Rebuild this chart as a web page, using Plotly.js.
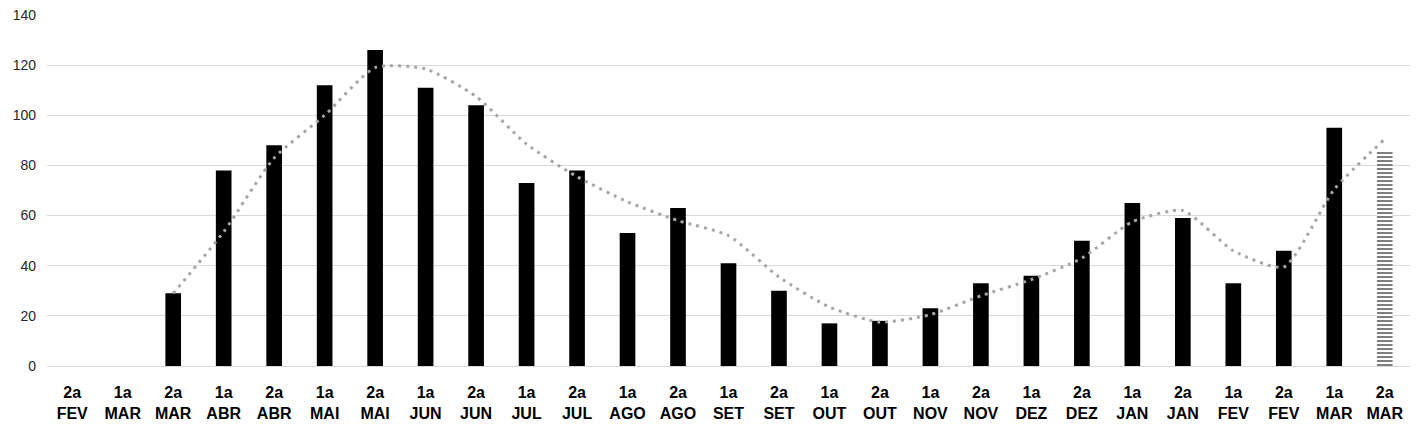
<!DOCTYPE html>
<html><head><meta charset="utf-8">
<script src="https://cdn.plot.ly/plotly-3.0.1.min.js"></script>
<style>html,body{margin:0;padding:0;background:#fff}#c{width:1424px;height:436px}</style>
</head><body><div id="c"></div>
<script>
const periods = ["2a","1a","2a","1a","2a","1a","2a","1a","2a","1a","2a","1a","2a","1a","2a","1a","2a","1a","2a","1a","2a","1a","2a","1a","2a","1a","2a"];
const months = ["FEV","MAR","MAR","ABR","ABR","MAI","MAI","JUN","JUN","JUL","JUL","AGO","AGO","SET","SET","OUT","OUT","NOV","NOV","DEZ","DEZ","JAN","JAN","FEV","FEV","MAR","MAR"];
const values = [null,null,29,78,88,112,126,111,104,73,78,53,63,41,30,17,18,23,33,36,50,65,59,33,46,95,null];
const lastValue = [null,null,null,null,null,null,null,null,null,null,null,null,null,null,null,null,null,null,null,null,null,null,null,null,null,null,86];
const trend = [null,null,29,53.5,83,100,119,118.5,107.5,88.5,75.5,65.5,58,52,35.5,23.5,17.5,20.5,28,34.5,43,57.5,62,46,39.5,70.5,90.5];

const cats = periods.map((p,i)=> i);
const tickText = periods.map((p,i)=> "<b>"+p+"</b><br><b>"+months[i]+"</b>");

const data = [
  {type:'bar', x:cats, y:values, width:0.31, marker:{color:'#000000'}, hoverinfo:'y'},
  {type:'bar', x:cats, y:lastValue, width:0.31,
   marker:{color:'#ffffff', line:{width:0}, pattern:{shape:'-', fgcolor:'#000000', bgcolor:'#ffffff', size:4, solidity:0.5, fillmode:'overlay'}}, hoverinfo:'y'},
  {type:'scatter', mode:'lines', x:cats, y:trend, line:{shape:'spline', smoothing:0.6, color:'#a6a6a6', width:3, dash:'3px,5px'}, connectgaps:false, hoverinfo:'y'}
];

const layout = {
  width:1424, height:436,
  margin:{l:47, r:14, t:15, b:70},
  barmode:'overlay',
  showlegend:false,
  paper_bgcolor:'#ffffff', plot_bgcolor:'#ffffff',
  font:{family:'Liberation Sans, Arial, sans-serif', color:'#000000'},
  xaxis:{
    tickmode:'array', tickvals:cats, ticktext:tickText,
    range:[-0.5, 26.5], showgrid:false, zeroline:false, showline:false, ticks:'',
    tickfont:{size:16, color:'#000000'}, ticklabelstandoff:15
  },
  yaxis:{
    range:[0,140], dtick:20, tick0:0, showgrid:true, gridcolor:'#d9d9d9', gridwidth:1,
    zeroline:true, zerolinecolor:'#d9d9d9', zerolinewidth:1,
    showline:false, ticks:'', tickfont:{size:14, color:'#262626'}, ticklabelstandoff:10
  }
};
Plotly.newPlot('c', data, layout, {staticPlot:true});
</script></body></html>
